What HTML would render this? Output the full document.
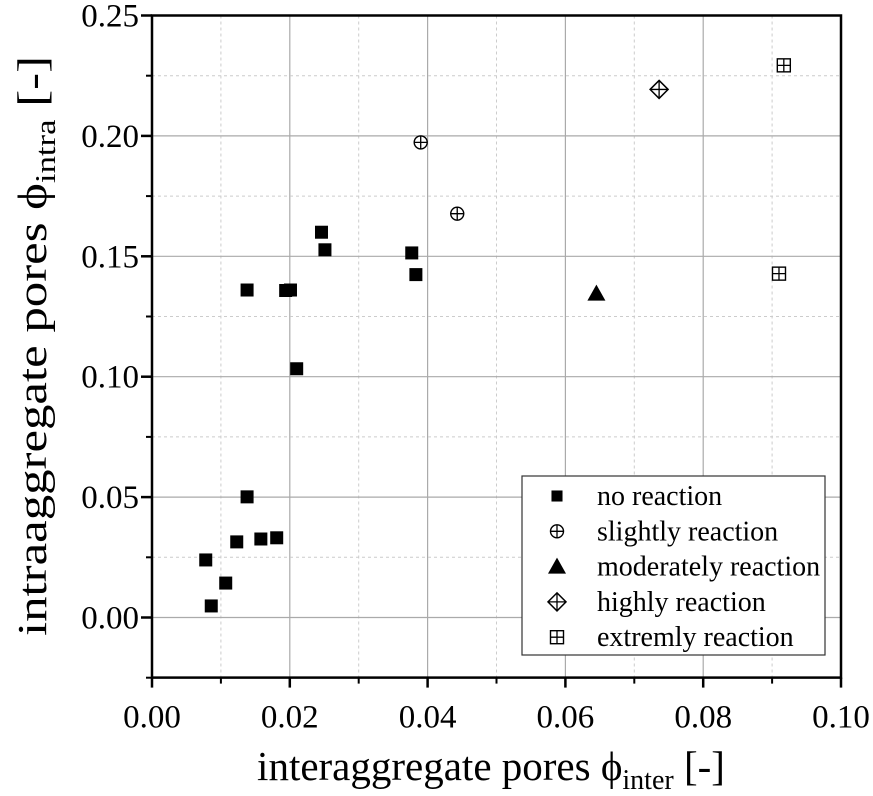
<!DOCTYPE html>
<html><head><meta charset="utf-8"><style>
body{margin:0;background:#fff}
svg{display:block;font-family:"Liberation Serif",serif}
</style></head><body>
<svg id="chart" width="873" height="796"></svg>
<script>
const xTicks=[0,0.02,0.04,0.06,0.08,0.10];
const xTickLabels=["0.00","0.02","0.04","0.06","0.08","0.10"];
const yTicks=[0,0.05,0.10,0.15,0.20,0.25];
const yTickLabels=["0.00","0.05","0.10","0.15","0.20","0.25"];
const noX=[0.0078,0.0086,0.0107,0.0123,0.0138,0.0158,0.0181,0.0138,0.0194,0.0201,0.0210,0.0246,0.0251,0.0377,0.0383];
const noY=[0.0239,0.0048,0.0143,0.0314,0.0501,0.0326,0.0331,0.1360,0.1358,0.1360,0.1033,0.1600,0.1527,0.1514,0.1424];
const slightX=[0.0390,0.0443];
const slightY=[0.1973,0.1677];
const modX=[0.0645];
const modY=[0.1345];
const highX=[0.0736];
const highY=[0.2193];
const extX=[0.0917,0.0910];
const extY=[0.2293,0.1428];

const NS="http://www.w3.org/2000/svg";
const svg=document.getElementById('chart');
const L=152,R=841,T=15.5,B=677.6;
const X=v=>L+v/0.1*(R-L);
const Y=v=>617.5-v/0.05*120.4;
function mk(tag,at,parent){const e=document.createElementNS(NS,tag);for(const k in at)e.setAttribute(k,at[k]);(parent||svg).appendChild(e);return e;}
const grid=mk('g',{});


for(let v=0.01;v<0.1;v+=0.01){const major=Math.round(v*100)%2===0;
 mk('line',{x1:X(v),x2:X(v),y1:T,y2:B,stroke:major?'#aaa':'#ccc','stroke-width':major?1.2:1,'stroke-dasharray':major?'':'3,3'},grid);}
for(let v=-0.025;v<0.25;v+=0.025){const k=Math.round(v*1000);if(k===-25)continue;const major=k%50===0;
 mk('line',{x1:L,x2:R,y1:Y(v),y2:Y(v),stroke:major?'#aaa':'#ccc','stroke-width':major?1.2:1,'stroke-dasharray':major?'':'3,3'},grid);}
const frame=mk('rect',{x:L,y:T,width:R-L,height:B-T,fill:'none',stroke:'#000','stroke-width':2.5});


xTicks.forEach((v,i)=>{mk('line',{x1:X(v),x2:X(v),y1:B,y2:B+10,stroke:'#000','stroke-width':2.5});
 const t=mk('text',{x:X(v),y:B+50,'text-anchor':'middle','font-size':33});t.textContent=xTickLabels[i];
 
 });
for(let v=0.01;v<0.1;v+=0.02)mk('line',{x1:X(v),x2:X(v),y1:B,y2:B+6,stroke:'#000','stroke-width':2});
yTicks.forEach((v,i)=>{mk('line',{x1:L-11,x2:L,y1:Y(v),y2:Y(v),stroke:'#000','stroke-width':2.5});
 const t=mk('text',{x:L-13,y:Y(v)+11,'text-anchor':'end','font-size':33});t.textContent=yTickLabels[i];
 
 });
[-0.025,0.025,0.075,0.125,0.175,0.225].forEach(v=>mk('line',{x1:L-6,x2:L,y1:Y(v),y2:Y(v),stroke:'#000','stroke-width':2}));

function marker(type,cx,cy,g,s){s=s||1;
 if(type==='sq')mk('rect',{x:cx-6.5*s,y:cy-6.5*s,width:13*s,height:13*s,fill:'#000'},g);
 else if(type==='circ'){mk('circle',{cx,cy,r:6.5,fill:'#fff',stroke:'#000','stroke-width':1.4},g);
  mk('path',{d:`M${cx-6.5} ${cy}H${cx+6.5}M${cx} ${cy-6.5}V${cy+6.5}`,stroke:'#000','stroke-width':1.3},g);}
 else if(type==='tri')mk('path',{d:`M${cx} ${cy-9}L${cx+9} ${cy+7}L${cx-9} ${cy+7}Z`,fill:'#000'},g);
 else if(type==='dia'){mk('path',{d:`M${cx} ${cy-9}L${cx+9} ${cy}L${cx} ${cy+9}L${cx-9} ${cy}Z`,fill:'#fff',stroke:'#000','stroke-width':1.5},g);
  mk('path',{d:`M${cx-9} ${cy}H${cx+9}M${cx} ${cy-9}V${cy+9}`,stroke:'#000','stroke-width':1.3},g);}
 else {mk('rect',{x:cx-6.5,y:cy-6.5,width:13,height:13,fill:'#fff',stroke:'#000','stroke-width':1.4},g);
  mk('path',{d:`M${cx-6.5} ${cy}H${cx+6.5}M${cx} ${cy-6.5}V${cy+6.5}`,stroke:'#000','stroke-width':1.3},g);}
}
function series(name,type,xs,ys){const g=mk('g',{});
 
 
 xs.forEach((x,i)=>marker(type,X(x),Y(ys[i]),g));}
series('series-no-reaction','sq',noX,noY);
series('series-slightly-reaction','circ',slightX,slightY);
series('series-moderately-reaction','tri',modX,modY);
series('series-highly-reaction','dia',highX,highY);
series('series-extremly-reaction','ext',extX,extY);

const lg=mk('g',{});


mk('rect',{x:522,y:476,width:303,height:179,fill:'#fff',stroke:'#333','stroke-width':1.2},lg);
const labels=["no reaction","slightly reaction","moderately reaction","highly reaction","extremly reaction"];
const types=['sq','circ','tri','dia','ext'];
labels.forEach((l,i)=>{const cy=496+i*35.3;const e=mk('g',{},lg);
 
 
 marker(types[i],557,cy,e,types[i]==='sq'?0.85:1);
 const t=mk('text',{x:597,y:cy+9,'font-size':28},e);t.textContent=l;});

const xt=mk('text',{x:491,y:780,'text-anchor':'middle','font-size':41});


xt.innerHTML='interaggregate pores ϕ<tspan font-size="28" dy="9">inter</tspan><tspan dy="-9"> [-]</tspan>';
const yt=mk('text',{transform:'translate(46,346) rotate(-90) scale(1.24,1)','text-anchor':'middle','font-size':41});


yt.innerHTML='intraaggregate pores ϕ<tspan font-size="28" dy="9">intra</tspan><tspan dy="-9"> [-]</tspan>';
</script>
</body></html>
